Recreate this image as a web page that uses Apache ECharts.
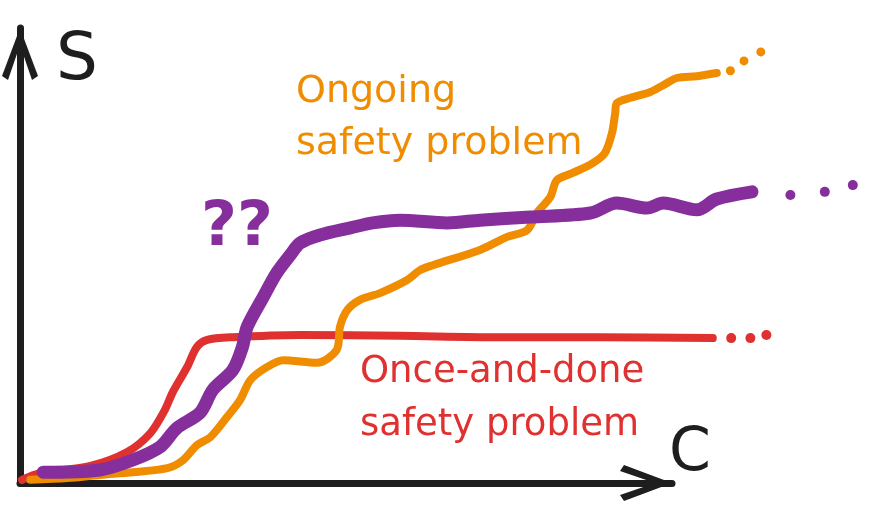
<!DOCTYPE html>
<html>
<head>
<meta charset="utf-8">
<script src="https://cdn.jsdelivr.net/npm/echarts@6/dist/echarts.min.js"></script>
<style>
  html, body { margin: 0; padding: 0; background: #fff; }
  #chart { width: 874px; height: 521px; }
</style>
</head>
<body>
<div id="chart"></div>
<script>
// C (x) and S (y) in arbitrary units
const onceAndDone = [
  [0.25, 0.7], [2.5, 2.2], [8.8, 3.8], [13.4, 6.9], [16.3, 11.1], [18.1, 16.2],
  [19.1, 20.2], [20.9, 25.8], [22.1, 30.2], [23.4, 31.8], [26.6, 32.4], [35, 32.9],
  [47.5, 32.7], [60, 32.4], [72.5, 32.4], [86.6, 32.2]
];
const onceAndDoneDots = [[88.9, 32.2], [91.3, 32.2], [93.3, 32.9]];

const ongoing = [
  [1.3, 0.7], [5.9, 1.1], [10, 1.8], [14.1, 2.4], [18.4, 3.3], [20.4, 5.1],
  [22.1, 8.4], [23.8, 10.2], [25.9, 14.7], [27.5, 18.4], [28.8, 22.9], [30.9, 25.8],
  [32.9, 27.3], [37.1, 26.7], [39.6, 29.6], [40, 34.7], [40.9, 38.4], [42.5, 40.7],
  [45, 42.2], [48.4, 45.1], [50, 47.3], [51.6, 48.4], [57.5, 51.8], [60.9, 54.7],
  [63.4, 56.2], [64.6, 60], [66.3, 63.6], [67.1, 67.3], [69.1, 68.9], [71.6, 71.1],
  [73.1, 73.3], [74, 77.8], [74.4, 82.2], [74.6, 84.4], [76.3, 85.6], [78.8, 86.9],
  [80.4, 88.4], [82.1, 90], [84.6, 90.4], [87.1, 91.1]
];
const ongoingDots = [[88.8, 91.6], [90.5, 93.8], [92.6, 95.8]];

const unknown = [
  [2.9, 2.4], [10, 2.9], [14.1, 5.1], [17.5, 8], [19.6, 12.2], [22.5, 15.6],
  [24.1, 20.7], [26.6, 25.1], [27.8, 30.2], [28.4, 34.7], [30.4, 41.3], [32.1, 46.7],
  [33.8, 50.7], [35, 53.3], [37.5, 55.1], [41.3, 56.7], [44.1, 57.8], [47.5, 58.4],
  [53.4, 57.8], [57.5, 58.4], [63.8, 59.1], [71.3, 60], [74.6, 62.2], [78.4, 61.1],
  [80.4, 62.2], [84.6, 60.7], [87.1, 63.1], [91.5, 64.7]
];
const unknownDots = [[96.3, 64], [100.6, 64.7], [104.1, 66.2]];

const axisNames = ['C', 'S'];
const labels = {
  ongoing: 'Ongoing\nsafety problem',
  once: 'Once-and-done\nsafety problem',
  unknown: '??'
};

const colors = { ink: '#1e1e1e', red: '#e03131', orange: '#f08c00', purple: '#862e9c' };
const handFont = '"DejaVu Sans", sans-serif';
const chevron = 'path://M18,0 L36,48 L30,52 L18,17 L6,52 L0,48 Z';

const hidden = { show: false };
const lineSeries = (data, color, width) => ({
  type: 'line', data, xAxisIndex: 0, yAxisIndex: 0,
  showSymbol: false, smooth: 0.3, silent: true,
  lineStyle: { color, width, cap: 'round', join: 'round' }
});
const dotSeries = (data, color, size) => ({
  type: 'scatter', data, xAxisIndex: 0, yAxisIndex: 0,
  symbolSize: size, silent: true, itemStyle: { color, opacity: 1 }
});
const arrowAxis = (gridIndex) => ({
  type: 'value', gridIndex, min: 0, max: 1,
  axisLine: {
    show: true, symbol: ['none', chevron], symbolSize: [36, 52], symbolOffset: [0, -26],
    lineStyle: { color: colors.ink, width: 7, cap: 'round' }
  },
  axisTick: hidden, axisLabel: hidden, splitLine: hidden
});

const chart = echarts.init(document.getElementById('chart'));
chart.setOption({
  animation: false,
  backgroundColor: '#fff',
  grid: [
    { left: 20, right: 6, top: 33, bottom: 38 },
    { left: 20, right: 202, top: 28, bottom: 38 }
  ],
  xAxis: [
    { type: 'value', gridIndex: 0, min: 0, max: 106, show: false },
    arrowAxis(1)
  ],
  yAxis: [
    { type: 'value', gridIndex: 0, min: 0, max: 100, show: false },
    arrowAxis(1)
  ],
  series: [
    lineSeries(onceAndDone, colors.red, 8),
    dotSeries(onceAndDoneDots, colors.red, 10),
    lineSeries(ongoing, colors.orange, 8),
    dotSeries(ongoingDots, colors.orange, 9),
    lineSeries(unknown, colors.purple, 13),
    dotSeries(unknownDots, colors.purple, 10)
  ],
  graphic: [
    { type: 'text', left: 56, top: 29, style: { text: axisNames[1], fill: colors.ink, font: '66px ' + handFont } },
    { type: 'text', left: 669, top: 424, style: { text: axisNames[0], fill: colors.ink, font: '60px ' + handFont } },
    { type: 'text', left: 296, top: 66, style: { text: labels.ongoing, fill: colors.orange, font: '38px ' + handFont, lineHeight: 52 } },
    { type: 'text', left: 360, top: 346, style: { text: labels.once, fill: colors.red, font: '37px ' + handFont, lineHeight: 53 } },
    { type: 'text', left: 201, top: 198, style: { text: labels.unknown, fill: colors.purple, font: 'bold 62px ' + handFont } }
  ]
});
</script>
</body>
</html>
